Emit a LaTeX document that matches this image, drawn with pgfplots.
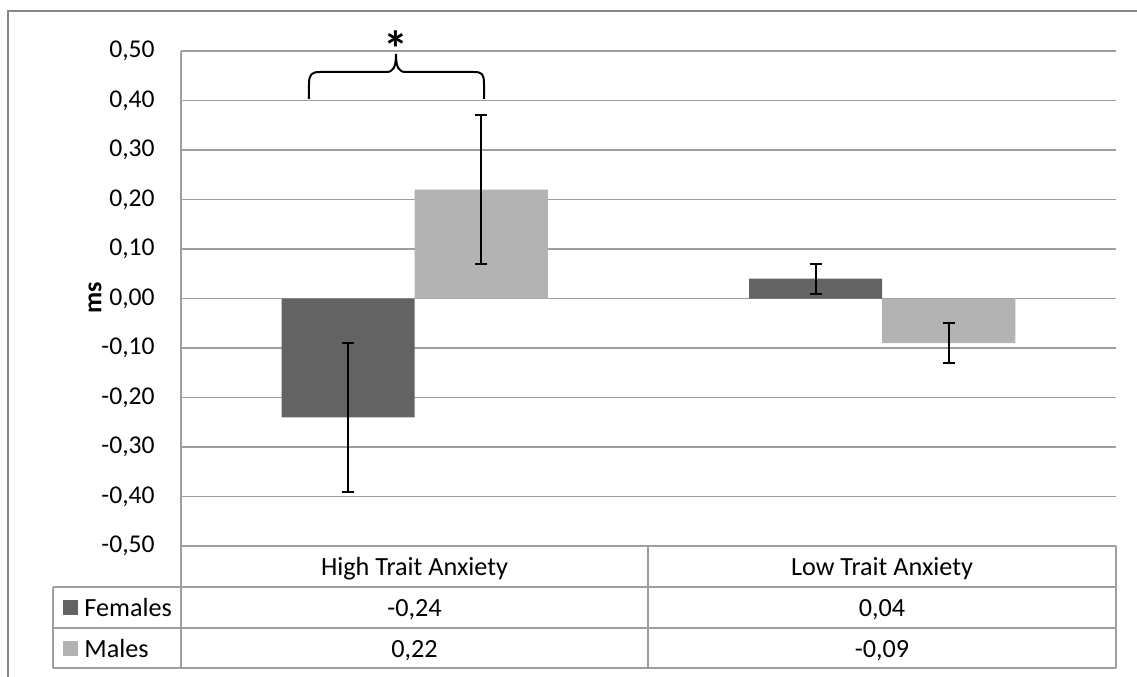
\documentclass[border=0pt]{standalone}
\usepackage{fontspec}
\setmainfont{Carlito}
\usepackage{pgfplots}
\pgfplotsset{compat=1.18}
\definecolor{fem}{RGB}{99,99,99}
\definecolor{mal}{RGB}{179,179,179}
\definecolor{gridc}{RGB}{158,158,158}
\definecolor{borderc}{RGB}{134,134,134}
\begin{document}
\fontsize{13.1}{15}\selectfont
\begin{tikzpicture}
\path[use as bounding box] (-90.5pt,-65pt) rectangle (478pt,273pt);
\begin{axis}[
  at={(0,0)}, anchor=south west, scale only axis,
  width=467.5pt, height=247.5pt,
  xmin=-0.5, xmax=1.5, ymin=-0.5, ymax=0.5,
  axis x line=none, axis y line*=left,
  axis line style={gridc, line width=0.75pt},
  ymajorgrids, grid style={gridc, line width=0.75pt},
  major tick length=0pt,
  ytick={-0.5,-0.4,-0.3,-0.2,-0.1,0,0.1,0.2,0.3,0.4,0.5},
  yticklabel style={/pgf/number format/fixed, /pgf/number format/fixed zerofill, /pgf/number format/precision=2, /pgf/number format/use comma, /pgf/number format/assume math mode=true},
  yticklabel style={anchor=east, inner sep=0pt, xshift=-13pt, font=\fontsize{12.8}{15}\selectfont},
  clip=false,
]
% Females (bars placed at category position minus half a bar width)
\addplot[ybar, bar width=0.285, bar shift=0, fill=fem, draw=none,
  error bars/.cd, y dir=both, y explicit,
  error bar style={black, line width=1pt},
  error mark options={rotate=90, mark size=3pt, line width=1pt, black}]
  coordinates {(-0.1425,-0.24) +- (0,0.15) (0.8575,0.04) +- (0,0.03)};
% Males
\addplot[ybar, bar width=0.285, bar shift=0, fill=mal, draw=none,
  error bars/.cd, y dir=both, y explicit,
  error bar style={black, line width=1pt},
  error mark options={rotate=90, mark size=3pt, line width=1pt, black}]
  coordinates {(0.1425,0.22) +- (0,0.15) (1.1425,-0.09) +- (0,0.04)};
\end{axis}
\begin{scope}[x=0.5pt,y=-0.5pt,shift={(-90.5pt,273pt)}]
  % outer border
  \draw[borderc, line width=0.75pt] (8,680) -- (8,11) -- (1140,11);
  % y label
  \node[rotate=90, font=\fontsize{13}{15}\selectfont\bfseries] at (95,298) {ms};
  % data table
  \draw[gridc, line width=0.75pt]
    (53,587) -- (1116,587)
    (53,628) -- (1116,628)
    (53,668) -- (1116,668)
    (53,587) -- (53,668)
    (181,546) -- (181,668)
    (648,546) -- (648,668)
    (1116,546) -- (1116,668);
  \node[anchor=base] at (414.5,575) {High Trait Anxiety};
  \node[anchor=base] at (882,575) {Low Trait Anxiety};
  \node[anchor=base] at (414.5,616) {-0,24};
  \node[anchor=base] at (882,616) {0,04};
  \node[anchor=base] at (414.5,657) {0,22};
  \node[anchor=base] at (882,657) {-0,09};
  \fill[fem] (63,600) rectangle (78,615);
  \fill[mal] (63,641) rectangle (78,656);
  \node[anchor=base west, inner sep=0pt] at (84,616) {Females};
  \node[anchor=base west, inner sep=0pt] at (84,657) {Males};
  % brace
  \draw[black, line width=1pt]
    (309,99) -- (309,84) .. controls (309,74) and (312,72) .. (320,72)
    -- (386,72) .. controls (393,72) and (396,68) .. (396,54)
    .. controls (396,68) and (399,72) .. (406,72)
    -- (474,72) .. controls (482,72) and (484,74) .. (484,84) -- (484,99);
  \node[anchor=base, inner sep=0pt, font=\fontsize{25}{30}\selectfont\bfseries] at (396,67) {*};
\end{scope}
\end{tikzpicture}
\end{document}
